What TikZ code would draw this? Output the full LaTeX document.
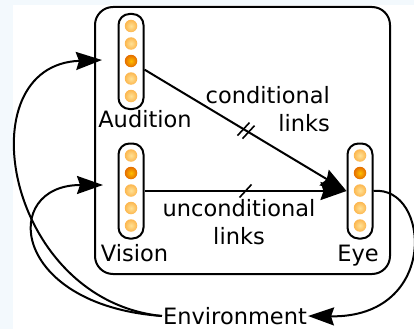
\documentclass[tikz,border=0pt]{standalone}
\usepackage{fontspec}
\setmainfont{DejaVu Sans}
\usetikzlibrary{arrows.meta, positioning, calc}
\definecolor{dotlight}{RGB}{255,226,150}
\definecolor{dotedge}{RGB}{252,182,78}
\definecolor{dothot}{RGB}{255,192,0}
\definecolor{dothotedge}{RGB}{228,108,0}
\definecolor{paleblue}{RGB}{243,249,253}

\begin{document}
\begin{tikzpicture}[
    x=1pt, y=-1pt,
    font=\fontsize{22.5}{28}\selectfont,
    frame/.style={
      draw,
      line width=2pt,
      rounded corners=18pt,
      minimum width=295pt,
      minimum height=267pt
    },
    unit/.style={draw, line width=2pt, rounded corners=11pt, minimum width=25pt, minimum height=95pt, inner sep=0pt},
    dot/.style={circle, inner sep=0pt, minimum size=12.5pt, inner color=dotlight, outer color=dotedge},
    hot/.style={dot, inner color=dothot, outer color=dothotedge},
    lbl/.style={inner sep=0pt, anchor=base},
    head/.style={-{Stealth[length=26pt, width=18pt, inset=3pt]}},
    link/.style={line width=2pt, head},
    loop/.style={line width=2pt, head}
]
\useasboundingbox (0,0) rectangle (414,329);
\fill[paleblue] (0,0) rectangle (13,329);
\fill[paleblue] (0,0) rectangle (414,5);

% agent box and its three units
\node[frame] (agent) at (242.5,140.5) {};
\node[unit] (aud) at (131,61.5) {};
\node[unit] (vis) at (131,191) {};
\node[unit] (eye) at (360,191) {};

\foreach \u/\h in {aud/2, vis/1, eye/1}
  \foreach \i in {0,...,4}{
    \ifnum\i=\h
      \node[hot] (\u-\i) at ([yshift={-13pt-17.5pt*\i}]\u.north) {};
    \else
      \node[dot] (\u-\i) at ([yshift={-13pt-17.5pt*\i}]\u.north) {};
    \fi
  }

\node[lbl] (audlbl) at (145,127) {Audition};
\node[lbl] (vislbl) at (134.5,261) {Vision};
\node[lbl] (eyelbl) at (358,261) {Eye};

% links
\draw[link] (aud) -- coordinate[pos=.49] (c1) coordinate[pos=.515] (c2) (eye.west);
\draw[link] (vis) -- coordinate[pos=.5] (u1) (eye.west);
\foreach \c in {c1,c2,u1}
  \draw[line width=1.6pt] ([shift={(-6pt,-6.5pt)}]\c) -- ([shift={(6pt,6.5pt)}]\c);

\node[align=right, inner sep=0pt, anchor=east] (condlbl) at (330,109.5) {conditional\\links};
\node[align=center, inner sep=0pt] (unclbl) at (239,222.5) {unconditional\\links};

% environment loop
\node[inner sep=1pt] (env) at (235,316) {Environment};
\coordinate (audin) at (102,60);
\coordinate (visin) at (103,185);

\draw[loop] (eye.east) .. controls (430,185) and (440,318) .. (env.east);
\draw[loop] (env.west) .. controls (5,300) and (-35,65) .. (audin);
\draw[loop] (env.west) .. controls (10,305) and (0,185) .. (visin);
\end{tikzpicture}
\end{document}
